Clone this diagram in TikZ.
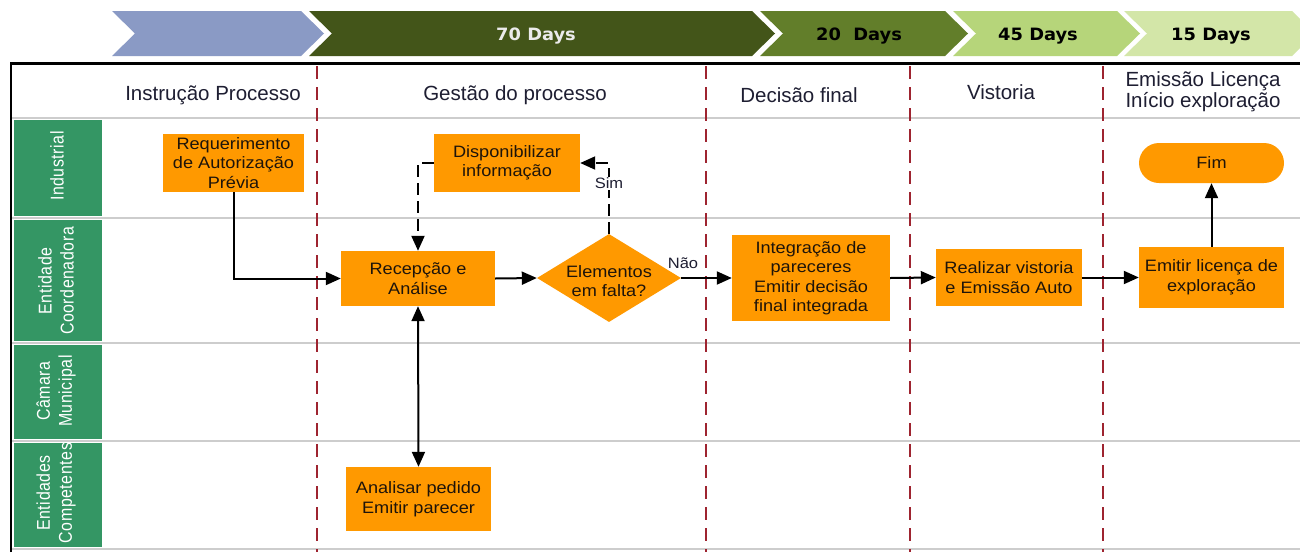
\documentclass[tikz,border=0pt]{standalone}
\usepackage{fontspec}
\setmainfont{Liberation Sans}
\newfontfamily\boxf{Liberation Sans}[FakeStretch=1.1]
\newfontfamily\lanef{Liberation Sans}[FakeStretch=0.86,LetterSpace=3]
\newfontfamily\dayf{DejaVu Sans}[FakeStretch=1.05]
\usetikzlibrary{arrows.meta,shapes.geometric}
\definecolor{cblue}{RGB}{138,154,197}
\definecolor{cdark}{RGB}{67,85,25}
\definecolor{cmed}{RGB}{98,126,42}
\definecolor{clight}{RGB}{182,213,122}
\definecolor{clightest}{RGB}{211,230,168}
\definecolor{lanegreen}{RGB}{52,150,100}
\definecolor{procorange}{RGB}{255,153,0}
\definecolor{redline}{RGB}{158,36,48}
\definecolor{gridgray}{RGB}{205,205,205}
\definecolor{headtext}{RGB}{30,30,50}
\definecolor{boxtext}{RGB}{30,20,10}
\tikzset{
  proc/.style={fill=procorange, draw=none, inner sep=0pt, align=center,
    text=boxtext, font=\boxf\fontsize{16.5}{19.5}\selectfont},
  decision/.style={diamond, fill=procorange, draw=none, inner sep=0pt,
    minimum width=144pt, minimum height=88pt},
  headlabel/.style={text=headtext, align=center, inner sep=0pt,
    font=\fontsize{20.5}{21}\selectfont},
  lanelabel/.style={text=white, align=center, rotate=90, inner sep=0pt,
    font=\lanef\fontsize{18.5}{22}\selectfont},
  daylabel/.style={inner sep=0pt, anchor=base, font=\dayf\bfseries\fontsize{17}{20}\selectfont},
  smalllabel/.style={inner sep=1pt, text=headtext, font=\boxf\fontsize{15}{16}\selectfont},
  arr/.style={line width=2pt, draw=black, -{Triangle[length=15pt,width=13pt]}},
  dasharr/.style={arr, dash pattern=on 12pt off 6pt},
  dblarr/.style={line width=2pt, draw=black, {Triangle[length=15pt,width=13pt]}-{Triangle[length=15pt,width=13pt]}},
  laneline/.style={draw=gridgray, line width=2pt},
  reddash/.style={draw=redline, line width=2.5pt, dash pattern=on 13pt off 8pt},
}
\begin{document}
\begin{tikzpicture}[x=1pt,y=-1pt]
\useasboundingbox (0,0) rectangle (1300,552);
\fill[white] (0,0) rectangle (1300,552);
% chevrons
\fill[cblue] (112,11) -- (301,11) -- (324,33.5) -- (301,56) -- (112,56) -- (135,33.5) -- cycle;
\fill[cdark] (309,11) -- (752,11) -- (775,33.5) -- (752,56) -- (309,56) -- (332,33.5) -- cycle;
\fill[cmed] (760,11) -- (945,11) -- (968,33.5) -- (945,56) -- (760,56) -- (783,33.5) -- cycle;
\fill[clight] (953,11) -- (1117,11) -- (1140,33.5) -- (1117,56) -- (953,56) -- (976,33.5) -- cycle;
\fill[clightest] (1124,11) -- (1292,11) -- (1315,33.5) -- (1292,56) -- (1124,56) -- (1147,33.5) -- cycle;
\node[daylabel, text=white!92!black] (d70) at (536,40.5) {70 Days};
\node[daylabel] (d20) at (859,40.5) {20\ \ Days};
\node[daylabel] (d45) at (1038,40.5) {45 Days};
\node[daylabel] (d15) at (1211,40.5) {15 Days};
% lane lines
\draw[laneline] (12,118) -- (1300,118);
\draw[laneline] (12,218) -- (1300,218);
\draw[laneline] (12,343) -- (1300,343);
\draw[laneline] (12,441) -- (1300,441);
\draw[laneline] (12,549) -- (1300,549);
% green lane headers
\fill[lanegreen] (14,120) rectangle (102,216);
\fill[lanegreen] (14,220) rectangle (102,341);
\fill[lanegreen] (14,345) rectangle (102,439);
\fill[lanegreen] (14,443) rectangle (102,547);
\node[lanelabel] (l1) at (57,166) {Industrial};
\node[lanelabel] (l2) at (56,281) {Entidade\\Coordenadora};
\node[lanelabel] (l3) at (56,391) {C\^amara\\Municipal};
\node[lanelabel] (l4) at (56,493) {Entidades\\Competentes};
% phase separators
\draw[reddash] (317,66) -- (317,552);
\draw[reddash] (706,66) -- (706,552);
\draw[reddash] (910,66) -- (910,552);
\draw[reddash] (1103,66) -- (1103,552);
% table border
\draw[line width=2.5pt] (11,552) -- (11,63.5) -- (1300,63.5);
% headers
\node[headlabel] (h1) at (213,95) {Instrução Processo};
\node[headlabel] (h2) at (515,95) {Gestão do processo};
\node[headlabel] (h3) at (799,95) {Decisão final};
\node[headlabel] (h4) at (1001,92) {Vistoria};
\node[headlabel] (h5) at (1203,92) {Emissão Licença\\Início exploração};
% process nodes
\node[proc, minimum width=141pt, minimum height=58pt] (req) at (233.5,163) {Requerimento\\de Autorização\\Prévia};
\node[proc, minimum width=146pt, minimum height=58pt] (disp) at (507,163) {Disponibilizar\\informação};
\node[proc, minimum width=154pt, minimum height=55pt] (rec) at (418,278.5) {Recepção e\\Análise};
\node[decision] (dia) at (609,278) {};
\node[proc, fill=none] (diat) at (609,281) {Elementos\\em falta?};
\node[proc, minimum width=158pt, minimum height=86pt] (int) at (811,278) {Integração de\\pareceres\\Emitir decisão\\final integrada};
\node[proc, minimum width=146pt, minimum height=57pt] (real) at (1009,277.5) {Realizar vistoria\\e Emissão Auto};
\node[proc, minimum width=145pt, minimum height=61pt] (emit) at (1211.5,277.5) {Emitir licença de\\exploração};
\node[proc, minimum width=145pt, minimum height=40pt, rounded corners=20pt] (fim) at (1211.5,163) {Fim};
\node[proc, minimum width=145pt, minimum height=64pt] (anal) at (418.5,499) {Analisar pedido\\Emitir parecer};
% connectors
\draw[arr] (req.south) |- (rec.west);
\draw[arr] (rec.east) -- (dia.west);
\draw[dasharr] (dia.north) |- (disp.east);
\node[smalllabel, fill=white] (sim) at (609,183.5) {Sim};
\draw[dasharr] (disp.west) -| (rec.north);
\draw[dblarr] (rec.south) -- (anal.north);
\draw[arr] (dia.east) -- (int.west);
\node[smalllabel] (nao) at (683,263) {Não};
\draw[arr] (int.east) -- (real.west);
\draw[arr] (real.east) -- (emit.west);
\draw[arr] (emit.north) -- (fim.south);
\end{tikzpicture}
\end{document}
